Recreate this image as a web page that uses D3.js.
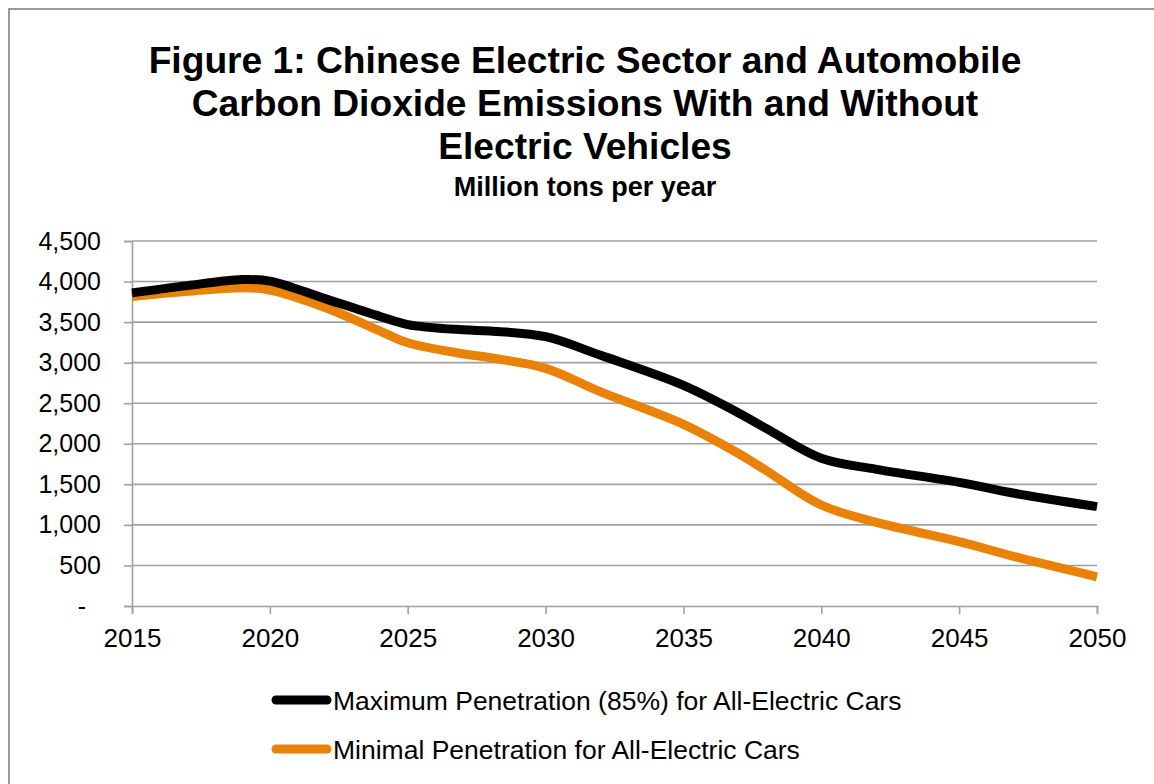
<!DOCTYPE html>
<html>
<head>
<meta charset="utf-8">
<script src="https://cdn.jsdelivr.net/npm/d3@7"></script>
<style>
  html, body { margin: 0; padding: 0; background: #fff; }
  svg { display: block; font-family: "Liberation Sans", Arial, sans-serif; }
</style>
</head>
<body>
<svg id="chart" width="1154" height="784"></svg>
<script>
// Emissions scenarios, million tons CO2 per year
const maxYears   = [2015, 2017, 2019, 2020, 2022, 2024, 2025, 2027, 2028, 2030, 2032, 2035, 2037, 2038, 2040, 2042, 2045, 2047, 2050];
const maxValues  = [3860, 3950, 4025, 4005, 3790, 3570, 3470, 3405, 3390, 3320, 3090, 2720, 2380, 2190, 1821, 1685, 1525, 1390, 1225];

const minYears   = [2015, 2017, 2019, 2020, 2022, 2024, 2025, 2027, 2028, 2030, 2032, 2035, 2037, 2038, 2040, 2042, 2045, 2047, 2050];
const minValues  = [3815, 3880, 3925, 3895, 3680, 3390, 3245, 3110, 3060, 2930, 2640, 2240, 1880, 1670, 1245, 1030, 795, 610, 360];

const seriesNames  = ["Maximum Penetration (85%) for All-Electric Cars", "Minimal Penetration for All-Electric Cars"];
const seriesColors = ["#000000", "#EA8208"];

const xTicks = [2015, 2020, 2025, 2030, 2035, 2040, 2045, 2050];
const yTicks = [0, 500, 1000, 1500, 2000, 2500, 3000, 3500, 4000, 4500];

const titleLines = ["Figure 1: Chinese Electric Sector and Automobile",
                    "Carbon Dioxide Emissions With and Without",
                    "Electric Vehicles"];
const subtitle = "Million tons per year";

const svg = d3.select("#chart");

// outer frame
svg.append("rect")
  .attr("x", 9).attr("y", 9)
  .attr("width", 1200).attr("height", 800)
  .attr("fill", "none").attr("stroke", "#999").attr("stroke-width", 2);

// titles
const cx = 585;
titleLines.forEach((t, i) => {
  svg.append("text")
    .attr("x", cx).attr("y", 73 + i * 43)
    .attr("text-anchor", "middle")
    .attr("font-size", 37.2).attr("font-weight", "bold")
    .attr("fill", "#000")
    .text(t);
});
svg.append("text")
  .attr("x", cx).attr("y", 196)
  .attr("text-anchor", "middle")
  .attr("font-size", 27).attr("font-weight", "bold")
  .attr("fill", "#000")
  .text(subtitle);

// scales
const x = d3.scaleLinear().domain([2015, 2050]).range([132, 1097]);
const y = d3.scaleLinear().domain([0, 4500]).range([606, 241]);

// gridlines
svg.append("g")
  .selectAll("line")
  .data(yTicks.filter(d => d > 0))
  .join("line")
  .attr("x1", x(2015)).attr("x2", x(2050))
  .attr("y1", d => y(d)).attr("y2", d => y(d))
  .attr("stroke", "#a0a0a0").attr("stroke-width", 1.6);

// y axis (accounting style: dash for zero)
const yAxis = svg.append("g")
  .attr("transform", `translate(${x(2015)},0)`)
  .call(d3.axisLeft(y).tickValues(yTicks).tickSize(8).tickPadding(23)
    .tickFormat(d => d === 0 ? "-" : d3.format(",")(d)));
yAxis.select(".domain").attr("stroke", "#a0a0a0").attr("stroke-width", 1.6);
yAxis.selectAll(".tick line").attr("stroke", "#a0a0a0").attr("stroke-width", 1.6);
yAxis.selectAll(".tick text")
  .attr("font-size", 25).attr("fill", "#000")
  .attr("font-family", "Liberation Sans, Arial, sans-serif")
  .attr("dx", d => d === 0 ? -15 : 0);

// x axis
const xAxis = svg.append("g")
  .attr("transform", `translate(0,${y(0)})`)
  .call(d3.axisBottom(x).tickValues(xTicks).tickSize(8).tickPadding(15)
    .tickFormat(d3.format("d")));
xAxis.select(".domain").attr("stroke", "#a0a0a0").attr("stroke-width", 1.6);
xAxis.selectAll(".tick line").attr("stroke", "#a0a0a0").attr("stroke-width", 1.6);
xAxis.selectAll(".tick text")
  .attr("font-size", 26).attr("fill", "#000")
  .attr("font-family", "Liberation Sans, Arial, sans-serif");

// series lines
const line = d3.line()
  .x(d => x(d[0])).y(d => y(d[1]))
  .curve(d3.curveCatmullRom.alpha(0.5));

const series = [
  d3.zip(maxYears, maxValues),
  d3.zip(minYears, minValues)
];

// draw the minimal-penetration line first so the black one sits on top where they meet
[1, 0].forEach(i => {
  svg.append("path")
    .datum(series[i])
    .attr("d", line)
    .attr("fill", "none")
    .attr("stroke", seriesColors[i])
    .attr("stroke-width", 9)
    .attr("stroke-linejoin", "round");
});

// legend
seriesNames.forEach((name, i) => {
  const ly = 700 + i * 49;
  svg.append("line")
    .attr("x1", 276).attr("x2", 327)
    .attr("y1", ly).attr("y2", ly)
    .attr("stroke", seriesColors[i]).attr("stroke-width", 9)
    .attr("stroke-linecap", "round");
  svg.append("text")
    .attr("x", 333).attr("y", ly + 9.5)
    .attr("font-size", 26.5).attr("fill", "#000")
    .text(name);
});
</script>
</body>
</html>
